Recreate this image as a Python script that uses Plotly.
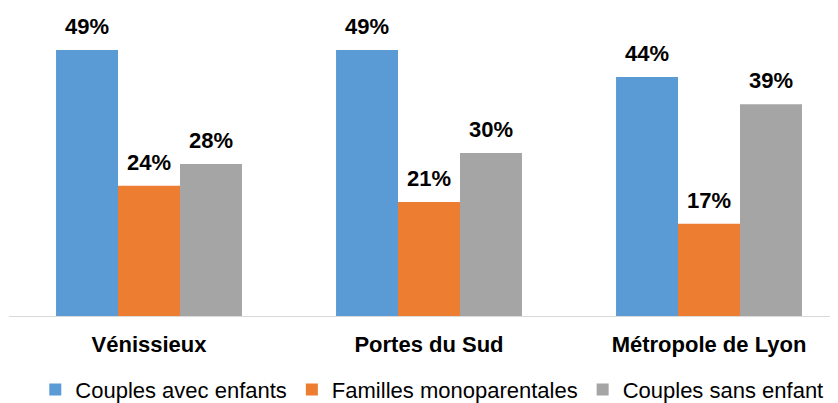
import plotly.graph_objects as go

categories = ["Vénissieux", "Portes du Sud", "Métropole de Lyon"]
series_names = ["Couples avec enfants", "Familles monoparentales", "Couples sans enfant"]
couples_avec = [49, 49, 44]
familles_mono = [24, 21, 17]
couples_sans = [28, 30, 39]
colors = ["#5B9BD5", "#ED7D31", "#A5A5A5"]

FONT = "Liberation Sans, Arial"
series = [couples_avec, familles_mono, couples_sans]

fig = go.Figure()
for name, vals, col in zip(series_names, series, colors):
    fig.add_trace(go.Bar(
        x=categories, y=vals, name=name, marker_color=col,
        marker_line_width=0,
    ))

# data labels above bars
bar_px = 62
for i, vals in enumerate(series):
    for cat, v in zip(categories, vals):
        fig.add_annotation(
            x=cat, y=v, text=f"{v}%", showarrow=False,
            xanchor="center", yanchor="bottom",
            xshift=(i - 1) * bar_px, yshift=9,
            font=dict(family=FONT, size=22, color="#000000", weight="bold"),
        )

fig.update_layout(
    width=830, height=395,
    margin=dict(l=1, r=0, t=2, b=87, autoexpand=False),
    paper_bgcolor="white", plot_bgcolor="white",
    barmode="group", bargap=0.336, bargroupgap=0,
    font=dict(family=FONT, color="#000000"),
    showlegend=True,
    legend=dict(orientation="h", x=0.51, xanchor="center", y=-0.172, yanchor="top",
                font=dict(size=22, color="#000000"), itemwidth=30, traceorder="normal"),
    xaxis=dict(showline=True, linecolor="#D9D9D9", linewidth=1, ticks="",
               tickfont=dict(size=22, family=FONT, weight="bold", color="#000000"),
               ticklabelstandoff=9, automargin=False,
               range=[-0.5, -0.5 + 829 / 280]),
    yaxis=dict(visible=False, range=[0, 306 / 5.43]),
)
fig.write_html("out.html")
